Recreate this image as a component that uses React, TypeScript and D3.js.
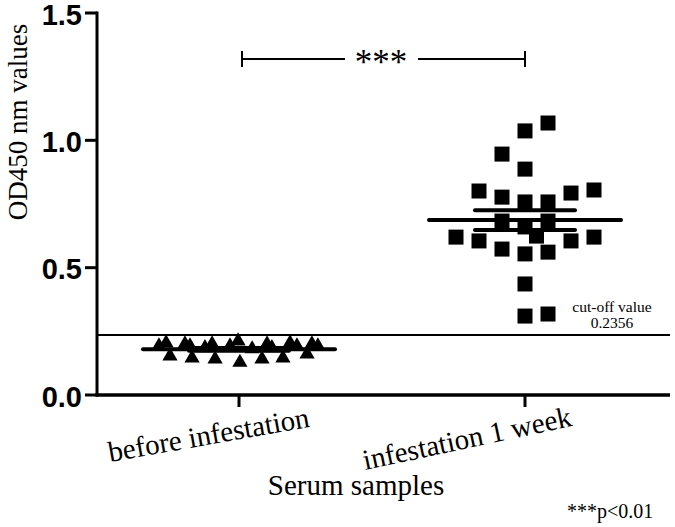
import React from "react";
import * as d3 from "d3";

// ---- data ----
const categories = ["before infestation", "infestation 1 week"];
const beforeValues = [
  0.192, 0.204, 0.2, 0.192, 0.185, 0.2, 0.192, 0.212, 0.181, 0.2, 0.185, 0.204, 0.192, 0.2, 0.192,
  0.153, 0.145, 0.141, 0.128, 0.141, 0.145, 0.161,
];
const beforeLanes = [
  -3.48, -3.17, -2.35, -2.13, -1.48, -1.17, -0.39, -0.04, 0.57, 1.22, 1.43, 2.22, 2.52, 3.17, 3.43,
  -3, -2.04, -1.04, 0.04, 1, 1.91, 2.96,
];
const afterValues = [
  1.068, 1.037, 0.946, 0.887, 0.801, 0.777, 0.758, 0.758, 0.793, 0.805, 0.683, 0.66, 0.683, 0.624,
  0.62, 0.605, 0.573, 0.554, 0.561, 0.605, 0.62, 0.436, 0.31, 0.318,
];
const afterLanes = [1, 0, -1, 0, -2, -1, 0, 1, 2, 3, -1, 0, 1, 0.5, -3, -2, -1, 0, 1, 2, 3, 0, 0, 1];
const yTicks = [0, 0.5, 1.0, 1.5];
const cutoffValue = 0.2356;
const yTitle = "OD450 nm values";
const xTitle = "Serum samples";
const pNote = "***p<0.01";

const W = 675;
const H = 527;
const serif = "'Liberation Serif', 'Times New Roman', serif";
const sans = "'Liberation Sans', Arial, sans-serif";

export default function App() {
  const y = d3.scaleLinear().domain([0, 1.5]).range([395, 13]);
  const x = d3.scalePoint<string>().domain(categories).range([239, 525]);
  const laneW = 23;
  const axisX = 97;
  const axisRight = 670;

  const tri = d3.symbol().type(d3.symbolTriangle).size(100)();
  const stats = (vals: number[]) => {
    const m = d3.mean(vals) as number;
    const sd = d3.deviation(vals) as number;
    return { m, sem: sd / Math.sqrt(vals.length) };
  };
  const sB = stats(beforeValues);
  const sA = stats(afterValues);
  const x0 = x(categories[0]) as number;
  const x1 = x(categories[1]) as number;

  const meanMarks = (cx: number, s: { m: number; sem: number }) => (
    <g stroke="#000" strokeWidth={4} strokeLinecap="round">
      <line x1={cx - 96} x2={cx + 96} y1={y(s.m)} y2={y(s.m)} />
      <line x1={cx - 50} x2={cx + 50} y1={y(s.m + s.sem)} y2={y(s.m + s.sem)} />
      <line x1={cx - 50} x2={cx + 50} y1={y(s.m - s.sem)} y2={y(s.m - s.sem)} />
    </g>
  );

  return (
    <div style={{ position: "fixed", left: 0, top: 0 }}>
      <svg width={W} height={H} style={{ display: "block", background: "#fff" }}>
        <rect width={W} height={H} fill="#fff" />
        {/* cut-off line */}
        <line x1={axisX} x2={axisRight} y1={y(cutoffValue)} y2={y(cutoffValue)} stroke="#000" strokeWidth={2} />
        <text x={612} y={312} fontFamily={serif} fontSize={15.5} textAnchor="middle">cut-off value</text>
        <text x={612} y={328} fontFamily={serif} fontSize={15.5} textAnchor="middle">{String(cutoffValue)}</text>

        {/* points: before (triangles) */}
        {beforeValues.map((v, i) => (
          <path key={"t" + i} d={tri} transform={`translate(${x0 + beforeLanes[i] * laneW},${y(v)})`} fill="#000" />
        ))}
        {meanMarks(x0, sB)}

        {/* points: after (squares) */}
        {afterValues.map((v, i) => (
          <rect key={"s" + i} x={x1 + afterLanes[i] * laneW - 7.5} y={y(v) - 7.5} width={15} height={15} fill="#000" />
        ))}
        {meanMarks(x1, sA)}

        {/* y axis */}
        <line x1={axisX} x2={axisX} y1={y(1.5) - 1.5} y2={y(0) + 1.5} stroke="#000" strokeWidth={3} />
        {yTicks.map((t) => (
          <g key={t}>
            <line x1={axisX - 12} x2={axisX} y1={y(t)} y2={y(t)} stroke="#000" strokeWidth={3} />
            <text x={82} y={y(t) + 11.5} fontFamily={sans} fontWeight="bold" fontSize={29} textAnchor="end">
              {d3.format(".1f")(t)}
            </text>
          </g>
        ))}
        {/* x axis */}
        <line x1={axisX - 1.5} x2={axisRight} y1={y(0)} y2={y(0)} stroke="#000" strokeWidth={3.5} />
        {categories.map((c) => (
          <line key={c} x1={x(c)} x2={x(c)} y1={y(0)} y2={y(0) + 12} stroke="#000" strokeWidth={3} />
        ))}
        <text transform={`translate(${x0 - 129},462) rotate(-10)`} fontFamily={serif} fontSize={29}>{categories[0]}</text>
        <text transform={`translate(${x1 - 160},470) rotate(-12)`} fontFamily={serif} fontSize={29}>{categories[1]}</text>

        {/* titles */}
        <text transform="translate(27,122) rotate(-90)" fontFamily={serif} fontSize={27} textAnchor="middle">{yTitle}</text>
        <text x={356} y={495} fontFamily={serif} fontSize={29} textAnchor="middle">{xTitle}</text>
        <text x={567} y={518} fontFamily={serif} fontSize={20}>{pNote}</text>

        {/* significance bracket */}
        <g stroke="#000" strokeWidth={2}>
          <line x1={x0 + 3} x2={345} y1={59} y2={59} />
          <line x1={418} x2={x1} y1={59} y2={59} />
          <line x1={x0 + 3} x2={x0 + 3} y1={51} y2={67} />
          <line x1={x1} x2={x1} y1={51} y2={67} />
        </g>
        <text x={381} y={74} fontFamily={serif} fontSize={35} textAnchor="middle">***</text>
      </svg>
    </div>
  );
}
